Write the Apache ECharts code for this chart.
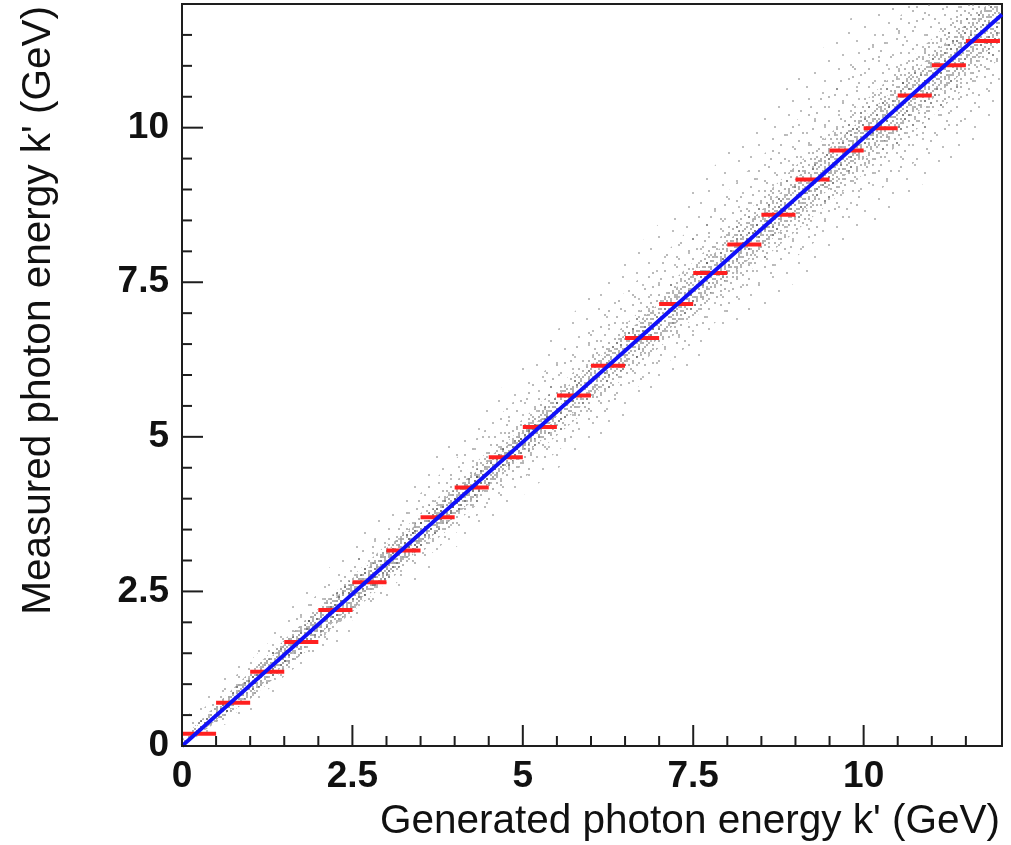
<!DOCTYPE html>
<html>
<head>
<meta charset="utf-8">
<style>
  html, body { margin: 0; padding: 0; background: #ffffff; }
  #chart { width: 1011px; height: 845px; }
</style>
<script src="https://cdn.jsdelivr.net/npm/echarts@6/dist/echarts.min.js"></script>
</head>
<body>
<div id="chart"></div>
<script>
// Profile of measured vs generated photon energy, 0.5 GeV bins (lower bin edges)
const binLow = [0, 0.5, 1, 1.5, 2, 2.5, 3, 3.5, 4, 4.5, 5, 5.5,
                6, 6.5, 7, 7.5, 8, 8.5, 9, 9.5, 10, 10.5, 11, 11.5];
const BIN_WIDTH = 0.5;
const profileMean = [0.20, 0.70, 1.20, 1.68, 2.20, 2.65, 3.16, 3.70, 4.18, 4.67, 5.16, 5.67,
                     6.15, 6.60, 7.15, 7.65, 8.11, 8.59, 9.16, 9.63, 9.99, 10.52, 11.01, 11.40];

// Straight-line fit of measured vs generated energy (end points)
const fitX = [0, 12.03];
const fitY = [0, 11.83];

// Envelope of the event cloud, sampled at integer generated energies
const cloudX  = [0, 1, 2, 3, 4, 5, 6, 7, 8, 9, 10, 11, 12];
const denseLo = [0.00, 0.76, 1.72, 2.70, 3.71, 4.77, 5.90, 6.88, 7.86, 8.85, 9.83, 10.81, 11.80];
const denseHi = [0.12, 1.20, 2.22, 3.20, 4.15, 5.07, 5.90, 6.88, 7.86, 8.85, 9.83, 10.81, 11.80];
const innerLo = [0.00, 0.83, 1.79, 2.75, 3.71, 4.68, 5.64, 6.60, 7.56, 8.53, 9.49, 10.45, 11.42];
const innerHi = [0.10, 1.13, 2.15, 3.15, 4.15, 5.16, 6.16, 7.16, 8.16, 9.17, 10.17, 11.17, 12.18];
const coreLo  = [0.00, 0.76, 1.70, 2.64, 3.59, 4.55, 5.49, 6.44, 7.38, 8.32, 9.25, 10.18, 11.12];
const coreHi  = [0.12, 1.20, 2.24, 3.26, 4.27, 5.29, 6.31, 7.32, 8.34, 9.38, 10.41, 11.44, 12.48];
const haloLo  = [0.00, 0.68, 1.57, 2.50, 3.43, 4.32, 5.20, 6.08, 7.01, 7.90, 8.78, 9.66, 10.60];
const haloHi  = [0.25, 1.38, 2.47, 3.55, 4.63, 5.72, 6.80, 7.88, 8.96, 10.10, 11.23, 12.31, 13.40];
const outerLo = [0.00, 0.55, 1.40, 2.30, 3.20, 4.05, 4.90, 5.75, 6.65, 7.50, 8.35, 9.20, 10.10];
const outerHi = [0.40, 1.55, 2.70, 3.85, 5.00, 6.15, 7.30, 8.45, 9.60, 10.80, 12.00, 13.10, 14.20];

// Axis ticks and labels
const xTickLabels = [0, 2.5, 5, 7.5, 10];
const yTickLabels = [0, 2.5, 5, 7.5, 10];
const xMinorTicks = [0.5, 1, 1.5, 2, 3, 3.5, 4, 4.5, 5.5, 6, 6.5, 7, 8, 8.5, 9, 9.5, 10.5, 11, 11.5];
const yMinorTicks = [0.5, 1, 1.5, 2, 3, 3.5, 4, 4.5, 5.5, 6, 6.5, 7, 8, 8.5, 9, 9.5, 10.5, 11, 11.5];

const X_MAX = 12.03;
const Y_MAX = 12.0;

// Speckle textures for the scatter cloud (hand-drawn bitmaps, one '#' = one speck)
const DENSE_TILE = [
  ".#....#....",
  "....#....#.",
  "#.......#..",
  "...#.#.....",
  ".........#.",
  "..#...#....",
  "#.........#",
  "....#..#...",
  ".#.......#.",
  "......#....",
  "...#.....#."
];
const INNER_TILE = [
  "#...#....#...",
  "..#....#...#.",
  "......#..#...",
  ".#..#......#.",
  "....#..#.....",
  "#........#..#",
  "...#.#.......",
  "........#.#..",
  ".#..#.......#",
  "......#..#...",
  "..#........#.",
  "#....#.#.....",
  "..........#.#"
];
const CORE_TILE = [
  "..#.......#.....",
  "#.......#.......",
  "....#.........#.",
  ".#.......#......",
  "......#.....#...",
  "..#.........#..#",
  "........#.#.....",
  "#....#..........",
  "...........#..#.",
  "...#..#.........",
  ".........#....#.",
  "#...#...........",
  "......#....#....",
  "..#..........#..",
  "........#......#",
  ".#...#.........."
];
const HALO_TILE = [
  "........#.............",
  "......................",
  "..#...................",
  "...........#......#...",
  "......................",
  "................#.....",
  "#.....................",
  "..........#...........",
  "......................",
  ".....#...............#",
  "..................#...",
  "..............#.......",
  "......................",
  "...#..................",
  "........#.............",
  ".........#......#.....",
  "......................",
  ".#....................",
  "............#........."
];
const OUTER_TILE = [
  "...........#.............",
  ".........................",
  ".........................",
  "....#....................",
  ".....................#...",
  ".........................",
  ".........................",
  "..............#..........",
  ".........................",
  "#........................",
  ".........................",
  "...................#.....",
  ".........................",
  ".......#.................",
  ".........................",
  ".........................",
  "........................#",
  "............#............",
  ".........................",
  ".........................",
  "...#.....................",
  "..................#......",
  "........................."
];

const SPECK = 2; // speck size in pixels

function makeTexture(rows, color) {
  const c = document.createElement('canvas');
  c.width = rows[0].length * SPECK;
  c.height = rows.length * SPECK;
  const ctx = c.getContext('2d');
  ctx.fillStyle = color;
  rows.forEach(function (row, y) {
    for (let x = 0; x < row.length; x++) {
      if (row[x] === '#') ctx.fillRect(x * SPECK, y * SPECK, SPECK, SPECK);
    }
  });
  return c;
}

const densePattern = { image: makeTexture(DENSE_TILE, 'rgba(60,60,60,0.45)'),   repeat: 'repeat' };
const innerPattern = { image: makeTexture(INNER_TILE, 'rgba(70,70,70,0.42)'),   repeat: 'repeat' };
const corePattern  = { image: makeTexture(CORE_TILE,  'rgba(90,90,90,0.45)'),   repeat: 'repeat' };
const haloPattern  = { image: makeTexture(HALO_TILE,  'rgba(100,100,100,0.45)'), repeat: 'repeat' };
const outerPattern = { image: makeTexture(OUTER_TILE, 'rgba(110,110,110,0.45)'), repeat: 'repeat' };

function envelopePolygon(api, lo, hi) {
  const pts = [];
  for (let i = 0; i < cloudX.length; i++) pts.push(api.coord([cloudX[i], hi[i]]));
  for (let i = cloudX.length - 1; i >= 0; i--) pts.push(api.coord([cloudX[i], lo[i]]));
  return pts;
}
function cloudLayer(name, lo, hi, pattern, z) {
  return {
    name: name, type: 'custom', xAxisIndex: 0, yAxisIndex: 0,
    clip: true, silent: true, data: [0], z: z,
    renderItem: function (params, api) {
      return { type: 'polygon', shape: { points: envelopePolygon(api, lo, hi) },
               style: { fill: pattern } };
    }
  };
}

const FONT = '"Liberation Sans", Arial, Helvetica, sans-serif';
const AXIS_COLOR = '#1e1e1e';
const MAJOR_LEN = 21, MINOR_LEN = 10;

function valueAxis(max, labels, isX) {
  return {
    type: 'value', min: 0, max: max, interval: 2.5,
    position: isX ? 'bottom' : 'left',
    axisLine: { show: true, onZero: false, lineStyle: { color: AXIS_COLOR, width: 2 } },
    axisTick: { show: false },
    axisLabel: {
      show: true, color: '#111', fontFamily: FONT, fontWeight: 'bold', fontSize: 37,
      margin: isX ? 12 : 13,
      formatter: function (v) { return labels.indexOf(v) >= 0 ? String(v) : ''; }
    },
    splitLine: { show: false }
  };
}

const chart = echarts.init(document.getElementById('chart'), null, { renderer: 'canvas' });
chart.setOption({
  animation: false,
  backgroundColor: '#ffffff',
  grid: {
    left: 182, right: 9, top: 4, bottom: 99, outerBoundsMode: 'none',
    show: true, borderColor: AXIS_COLOR, borderWidth: 2, backgroundColor: 'transparent'
  },
  xAxis: valueAxis(X_MAX, xTickLabels, true),
  yAxis: valueAxis(Y_MAX, yTickLabels, false),
  graphic: [
    {
      type: 'text', x: 1000, y: 822, silent: true,
      style: {
        text: "Generated photon energy k' (GeV)", fill: '#111',
        font: 'normal 40.5px ' + FONT, align: 'right', verticalAlign: 'middle'
      }
    },
    {
      type: 'text', x: 39, y: 6, rotation: Math.PI / 2, silent: true,
      style: {
        text: "Measured photon energy k' (GeV)", fill: '#111',
        font: 'normal 40.5px ' + FONT, align: 'right', verticalAlign: 'middle'
      }
    }
  ],
  series: [
    cloudLayer('events (outer)', outerLo, outerHi, outerPattern, 1),
    cloudLayer('events (halo)', haloLo, haloHi, haloPattern, 1),
    cloudLayer('events (core)', coreLo, coreHi, corePattern, 2),
    cloudLayer('events (inner)', innerLo, innerHi, innerPattern, 3),
    cloudLayer('events (dense)', denseLo, denseHi, densePattern, 3),
    {
      name: 'profile', type: 'custom', xAxisIndex: 0, yAxisIndex: 0,
      clip: true, silent: true, z: 4,
      data: binLow.map(function (lo, i) { return [lo, profileMean[i]]; }),
      renderItem: function (params, api) {
        const a = api.coord([api.value(0), api.value(1)]);
        const b = api.coord([api.value(0) + BIN_WIDTH, api.value(1)]);
        return { type: 'line', shape: { x1: a[0], y1: a[1], x2: b[0], y2: b[1] },
                 style: { stroke: '#ff2020', lineWidth: 4 } };
      }
    },
    {
      name: 'fit', type: 'line', xAxisIndex: 0, yAxisIndex: 0, z: 5,
      data: fitX.map(function (x, i) { return [x, fitY[i]]; }),
      symbol: 'none', clip: true, silent: true,
      lineStyle: { color: '#1010f8', width: 3.8 }
    },
    {
      // inward tick marks on the bottom and left axes
      name: 'ticks', type: 'custom', xAxisIndex: 0, yAxisIndex: 0,
      clip: false, silent: true, z: 6, data: [0],
      renderItem: function (params, api) {
        const children = [];
        function xTick(v, len) {
          const p = api.coord([v, 0]);
          children.push({ type: 'line', shape: { x1: p[0], y1: p[1], x2: p[0], y2: p[1] - len },
                          style: { stroke: AXIS_COLOR, lineWidth: 2 } });
        }
        function yTick(v, len) {
          const p = api.coord([0, v]);
          children.push({ type: 'line', shape: { x1: p[0], y1: p[1], x2: p[0] + len, y2: p[1] },
                          style: { stroke: AXIS_COLOR, lineWidth: 2 } });
        }
        xTickLabels.forEach(function (v) { xTick(v, MAJOR_LEN); });
        xMinorTicks.forEach(function (v) { xTick(v, MINOR_LEN); });
        yTickLabels.forEach(function (v) { yTick(v, MAJOR_LEN); });
        yMinorTicks.forEach(function (v) { yTick(v, MINOR_LEN); });
        return { type: 'group', children: children };
      }
    }
  ]
});
</script>
</body>
</html>
